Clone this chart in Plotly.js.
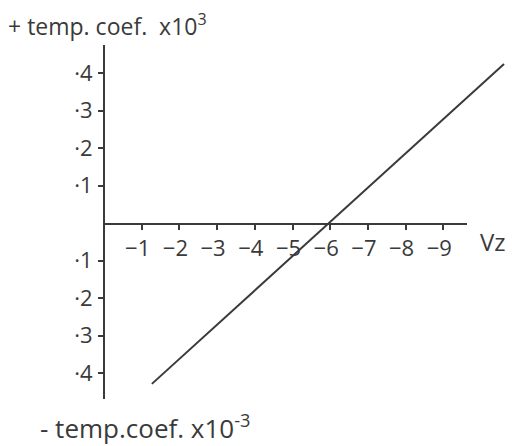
<!DOCTYPE html>
<html>
<head>
<meta charset="utf-8">
<script src="https://cdn.plot.ly/plotly-3.0.1.min.js"></script>
<style>html,body{margin:0;padding:0;background:#fff;}#chart{width:520px;height:446px;}</style>
</head>
<body>
<div id="chart"></div>
<script>
// Zener voltage magnitude (labelled as negative volts) and temperature coefficient
var xTickVals = [1, 2, 3, 4, 5, 6, 7, 8, 9];
var xTickText = ["−1", "−2", "−3", "−4", "−5", "−6", "−7", "−8", "−9"];
var yTickVals = [-0.4, -0.3, -0.2, -0.1, 0.1, 0.2, 0.3, 0.4];
var yTickText = ["·4", "·3", "·2", "·1", "·1", "·2", "·3", "·4"];
var lineX = [1.27, 10.61];
var lineY = [-0.429, 0.424];
var topTitle = "+ temp. coef.  x10<sup>3</sup>";
var bottomTitle = "- temp.coef. x10<sup>-3</sup>";
var xLabel = "Vz";

var W = 520, H = 446;
var ink = "#3a3a3a";
var fam = "Open Sans, DejaVu Sans, sans-serif";
var pxPerX = 37.7, pxPerY = 375;
var ox = 104, oy = 223;
var yTop = 45, yBot = 399, xEnd = 467;

var yRange = [(oy - yBot) / pxPerY, (oy - yTop) / pxPerY];
var yDomain = [1 - yBot / H, 1 - yTop / H];

var trace = {
  x: lineX, y: lineY, xaxis: "x2", yaxis: "y",
  mode: "lines", line: {color: ink, width: 2},
  hoverinfo: "skip", showlegend: false
};
// empty helper trace so the horizontal axis subplot exists
var axisHolder = {x: [], y: [], xaxis: "x", yaxis: "y3", mode: "lines",
  hoverinfo: "skip", showlegend: false};

function commonX() {
  return {
    domain: [ox / W, xEnd / W], range: [0, (xEnd - ox) / pxPerX],
    anchor: "y3",
    showgrid: false, zeroline: false, showline: true,
    linecolor: ink, linewidth: 2,
    tickmode: "array", tickvals: xTickVals,
    tickcolor: ink, tickwidth: 2, ticklen: 5, fixedrange: true
  };
}
function commonY() {
  return {
    domain: yDomain, range: yRange,
    anchor: "free", position: ox / W,
    showgrid: false, zeroline: false, showline: true,
    linecolor: ink, linewidth: 2,
    tickmode: "array", tickvals: yTickVals,
    tickcolor: ink, tickwidth: 2, ticklen: 5, fixedrange: true
  };
}

var layout = {
  width: W, height: H,
  margin: {l: 0, r: 0, t: 0, b: 0},
  paper_bgcolor: "#fff", plot_bgcolor: "rgba(0,0,0,0)",
  showlegend: false,
  font: {family: fam, size: 22, color: ink},
  xaxis: Object.assign(commonX(), {
    side: "bottom", ticks: "outside",
    ticktext: xTickText, tickfont: {family: fam, size: 22, color: ink},
    ticklabelstandoff: 0, ticklabelshift: -4
  }),
  xaxis3: Object.assign(commonX(), {
    side: "bottom", ticks: "inside", showticklabels: false, overlaying: "x"
  }),
  xaxis2: {
    domain: [ox / W, 1], range: [0, (W - ox) / pxPerX],
    anchor: "y", visible: false, fixedrange: true
  },
  yaxis: Object.assign(commonY(), {
    side: "left", ticks: "outside",
    ticktext: yTickText, tickfont: {family: fam, size: 22, color: ink},
    ticklabelstandoff: 1
  }),
  yaxis2: Object.assign(commonY(), {
    side: "left", ticks: "inside", showticklabels: false, overlaying: "y"
  }),
  yaxis3: {
    domain: [1 - oy / H, 1 - yTop / H], range: [0, 1],
    anchor: "x", visible: false, fixedrange: true
  },
  annotations: [
    {text: topTitle, xref: "paper", yref: "paper", x: 6 / W, y: 1 - 25 / H,
     xanchor: "left", yanchor: "middle", showarrow: false,
     font: {family: fam, size: 23, color: ink}},
    {text: xLabel, xref: "paper", yref: "paper", x: 478 / W, y: 1 - 241 / H,
     xanchor: "left", yanchor: "middle", showarrow: false,
     font: {family: fam, size: 24, color: ink}},
    {text: bottomTitle, xref: "paper", yref: "paper", x: 38 / W, y: 1 - 427 / H,
     xanchor: "left", yanchor: "middle", showarrow: false,
     font: {family: fam, size: 26, color: ink}}
  ]
};

Plotly.newPlot("chart", [trace, axisHolder], layout, {displayModeBar: false, staticPlot: true});
</script>
</body>
</html>
